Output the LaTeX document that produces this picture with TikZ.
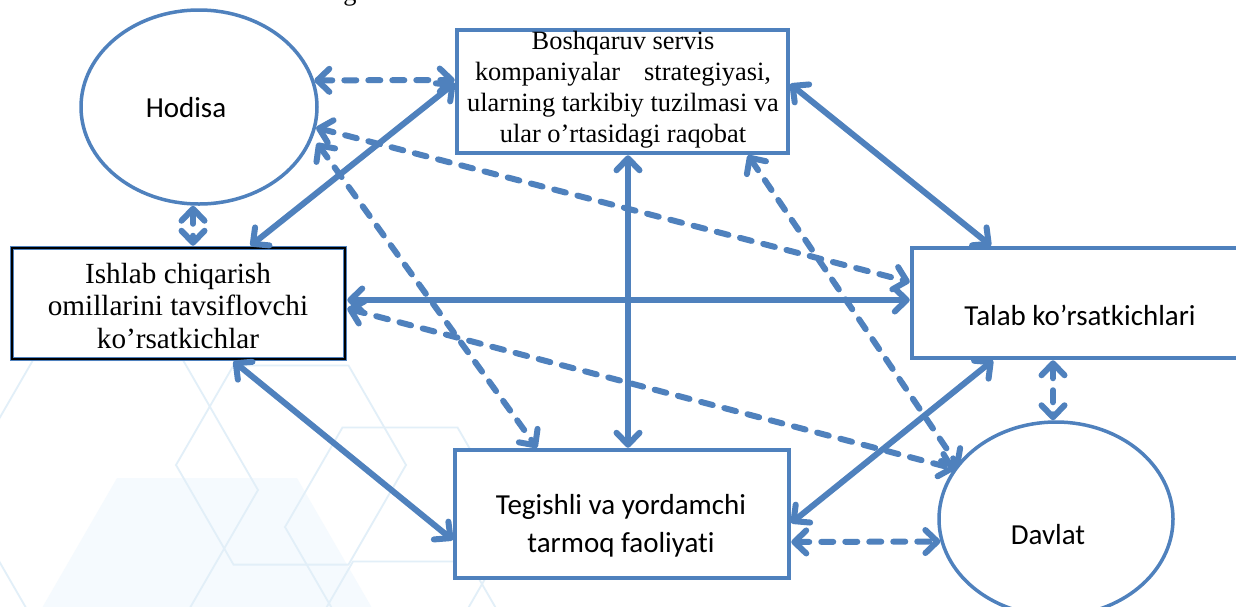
\documentclass[tikz,border=0pt]{standalone}
\usepackage{fontspec}
\setmainfont{Liberation Serif}
\newfontfamily\calib[Ligatures=NoCommon]{Carlito}
\usetikzlibrary{arrows.meta,shapes.geometric}
\definecolor{ob}{HTML}{4F81BD}
\definecolor{hexc}{HTML}{E2EFF8}
\definecolor{hexf}{HTML}{F5FAFE}
\begin{document}
\begin{tikzpicture}[x=1pt,y=-1pt,
  >={Straight Barb[length=12pt,width=23pt,line cap=round,line join=round]},
  boxn/.style={draw=ob,line width=4.5pt,fill=white,inner sep=0pt},
  elln/.style={ellipse,draw=ob,line width=3.5pt,fill=white,inner sep=0pt},
  sertxt/.style={font=\fontsize{26.4}{31}\selectfont,align=center,inner sep=0pt},
  sertxtb/.style={font=\fontsize{29.2}{32.5}\selectfont,align=center,inner sep=0pt},
  santxt/.style={font=\calib\fontsize{29}{38}\selectfont,align=center,inner sep=0pt},
  sol/.style={draw=ob,line width=6pt,<->},
  dsh/.style={draw=ob,line width=6pt,<->,dash pattern=on 12pt off 12pt,line cap=round},
  hex/.style={draw=hexc,line width=1.8pt}]
% canvas
\fill[white] (0,0) rectangle (1236,606);
\useasboundingbox (0,0) rectangle (1236,606);
% faint background hexagons
\fill[hexf] (207,634) +(0:180) -- +(60:180) -- +(120:180) -- +(180:180) -- +(240:180) -- +(300:180) -- cycle;
\draw[hex] (291,465) +(0:115) -- +(60:115) -- +(120:115) -- +(180:115) -- +(240:115) -- +(300:115) -- cycle;
\draw[hex] (400,527) +(0:115) -- +(60:115) -- +(120:115) -- +(180:115) -- +(240:115) -- +(300:115) -- cycle;
\draw[hex] (411,662) +(0:116) -- +(60:116) -- +(120:116) -- +(180:116) -- +(240:116) -- +(300:116) -- cycle;
\draw[hex] (108,490) +(0:150) -- +(60:150) -- +(120:150) -- +(180:150) -- +(240:150) -- +(300:150) -- cycle;
% cut caption letter at the top
\node[anchor=base,font=\fontsize{26.4}{31}\selectfont,inner sep=0pt] (cap) at (350,0) {g};
% shapes
\node[elln,minimum width=236pt,minimum height=194pt] (hodisa) at (199,107) {};
\node[elln,minimum width=234pt,minimum height=194pt] (davlat) at (1056,519) {};
\node[boxn,minimum width=331pt,minimum height=123pt] (top) at (622.5,91.5) {};
\node[boxn,minimum width=333pt,minimum height=111pt] (ishlab) at (178.5,303.5) {};
\draw[black,line width=1.8pt] ([shift={(2.5pt,-2.5pt)}]ishlab.north west) rectangle ([shift={(-2.5pt,2.5pt)}]ishlab.south east);
\node[boxn,minimum width=328pt,minimum height=110pt] (talab) at (1076,303) {};
\node[boxn,minimum width=334pt,minimum height=128pt] (tegishli) at (622,514) {};
% texts
\node[santxt] (hodisatxt) at (186,108) {Hodisa};
\node[santxt] (davlattxt) at (1048,535) {Davlat};
\node[santxt] (talabtxt) at (1080,315) {Talab ko’rsatkichlari};
\node[santxt] (tegtxt) at (621,526) {Tegishli va yordamchi\\tarmoq faoliyati};
\node[sertxt] (toptxt) at (623,90) {Boshqaruv servis\\\hbox to 296pt{kompaniyalar\hfill strategiyasi,}\\ularning tarkibiy tuzilmasi va\\ular o’rtasidagi raqobat};
\node[sertxtb] (ishtxt) at (178,306) {Ishlab chiqarish\\omillarini tavsiflovchi\\ko’rsatkichlar};
% solid connectors
\draw[sol] ([yshift=8.5pt]top.west) -- ([xshift=72pt]ishlab.north);
\draw[sol] ([yshift=7.5pt]top.east) -- ([xshift=-85pt]talab.north);
\draw[sol] ([xshift=5.5pt]top.south) -- ([xshift=6pt]tegishli.north);
\draw[sol] ([yshift=3.5pt]ishlab.east) -- ([yshift=3pt]talab.west);
\draw[sol] ([xshift=55pt]ishlab.south) -- ([yshift=-26pt]tegishli.west);
\draw[sol] ([xshift=-83pt]talab.south) -- ([yshift=-9pt]tegishli.east);
% dashed connectors
\draw[dsh] (hodisa.13) -- ([yshift=11.5pt]top.west);
\draw[dsh] (hodisa.-10) -- ([yshift=21pt]talab.west);
\draw[dsh] ([xshift=118pt,yshift=-36pt]hodisa.center) -- ([xshift=-85pt]tegishli.north);
\draw[dsh] ([xshift=-6pt]hodisa.south) -- ([xshift=14.5pt]ishlab.north);
\draw[dsh] ([xshift=125.5pt]top.south) -- ([xshift=-97pt,yshift=52pt]davlat.center);
\draw[dsh] ([yshift=-5pt]ishlab.east) -- ([xshift=-101pt,yshift=50pt]davlat.center);
\draw[dsh] ([xshift=-23pt]talab.south) -- ([xshift=-3pt]davlat.north);
\draw[dsh] ([yshift=-28pt]tegishli.east) -- (davlat.191);
\end{tikzpicture}
\end{document}
